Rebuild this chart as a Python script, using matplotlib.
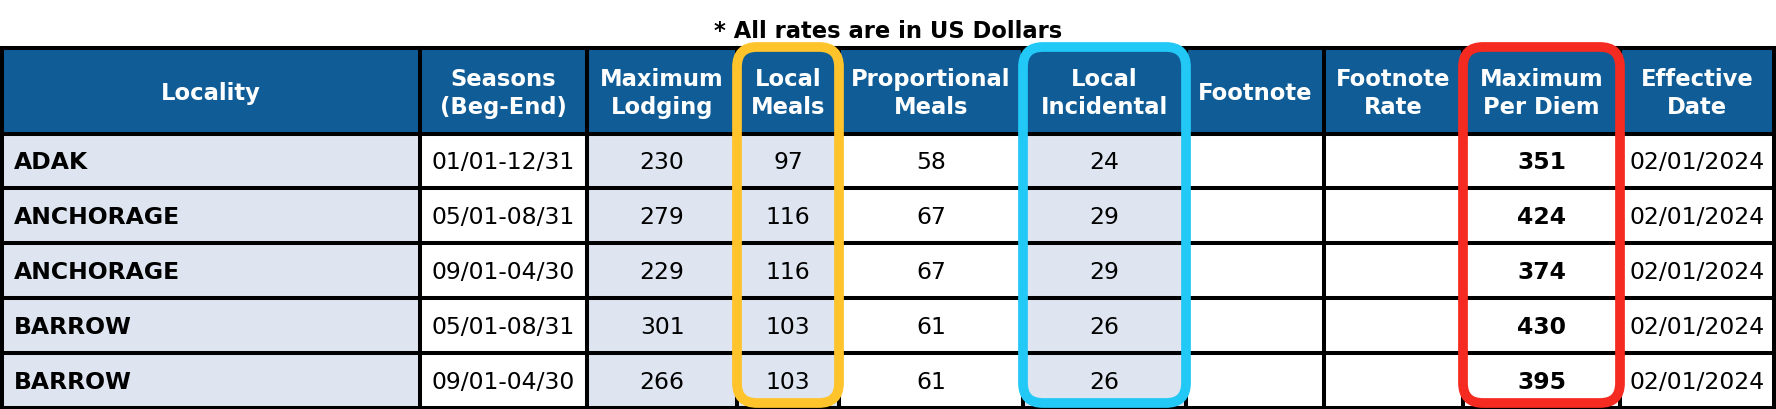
import matplotlib
matplotlib.use("Agg")
import matplotlib.pyplot as plt
from matplotlib.patches import Rectangle, FancyBboxPatch

# table contents
headers = ["Locality", "Seasons\n(Beg-End)", "Maximum\nLodging", "Local\nMeals",
           "Proportional\nMeals", "Local\nIncidental", "Footnote", "Footnote\nRate",
           "Maximum\nPer Diem", "Effective\nDate"]
localities = ["ADAK", "ANCHORAGE", "ANCHORAGE", "BARROW", "BARROW"]
seasons = ["01/01-12/31", "05/01-08/31", "09/01-04/30", "05/01-08/31", "09/01-04/30"]
max_lodging = [230, 279, 229, 301, 266]
local_meals = [97, 116, 116, 103, 103]
prop_meals = [58, 67, 67, 61, 61]
local_incidental = [24, 29, 29, 26, 26]
footnote = ["", "", "", "", ""]
footnote_rate = ["", "", "", "", ""]
max_per_diem = [351, 424, 374, 430, 395]
effective = ["02/01/2024"] * 5
note = "* All rates are in US Dollars"

columns = [localities, seasons, max_lodging, local_meals, prop_meals,
           local_incidental, footnote, footnote_rate, max_per_diem, effective]

# layout (pixel units, y grows downward)
col_edges = [1.5, 420, 587, 737, 839, 1023, 1186, 1324, 1463, 1620, 1774]
header_top, header_bot, row_h = 49, 134.5, 54.8
shaded = [True, False, True, True, False, True, False, False, False, False]
bold_col = [True] + [False] * 7 + [True, False]
highlights = {3: "#ffc32b", 5: "#22c8f6", 8: "#f52a20"}

HEAD = "#0f5c96"
LIGHT = "#dee5f0"
FS_HEAD = 16.3
FS_BODY = 16.9
LW = 2.9

fig = plt.figure(figsize=(17.76, 4.10), dpi=100)
ax = fig.add_axes([0, 0, 1, 1])
ax.set_xlim(0, 1776)
ax.set_ylim(410, 0)
ax.axis("off")

nrows = len(localities)
row_edges = [header_bot + i * row_h for i in range(nrows + 1)]

# fills
for j in range(len(headers)):
    x0, x1 = col_edges[j], col_edges[j + 1]
    ax.add_patch(Rectangle((x0, header_top), x1 - x0, header_bot - header_top,
                           facecolor=HEAD, edgecolor="none", zorder=1))
    if shaded[j]:
        ax.add_patch(Rectangle((x0, header_bot), x1 - x0, row_edges[-1] - header_bot,
                               facecolor=LIGHT, edgecolor="none", zorder=1))

# grid lines
for x in col_edges:
    ax.plot([x, x], [header_top, row_edges[-1]], color="black", lw=LW,
            solid_capstyle="projecting", zorder=2)
for y in [header_top] + row_edges:
    ax.plot([col_edges[0], col_edges[-1]], [y, y], color="black", lw=LW,
            solid_capstyle="projecting", zorder=2)

# header text
for j, h in enumerate(headers):
    cx = (col_edges[j] + col_edges[j + 1]) / 2
    ax.text(cx, (header_top + header_bot) / 2 + 2, h, color="white", fontsize=FS_HEAD,
            fontweight="bold", ha="center", va="center", linespacing=1.3, zorder=3)

# body text
for j, col in enumerate(columns):
    for i, v in enumerate(col):
        cy = (row_edges[i] + row_edges[i + 1]) / 2 + 1
        if j == 0:
            ax.text(col_edges[0] + 12, cy, v, fontsize=FS_BODY, fontweight="bold",
                    ha="left", va="center", zorder=3)
        else:
            cx = (col_edges[j] + col_edges[j + 1]) / 2
            ax.text(cx, cy, str(v), fontsize=FS_BODY,
                    fontweight="bold" if bold_col[j] else "normal",
                    ha="center", va="center", zorder=3)

# highlight frames
for j, c in highlights.items():
    x0, x1 = col_edges[j], col_edges[j + 1]
    ax.add_patch(FancyBboxPatch((x0, header_top - 1), x1 - x0, 405 - header_top,
                                boxstyle="round,pad=0,rounding_size=20",
                                facecolor="none", edgecolor=c, lw=7.0, zorder=4))

ax.text(888, 32, note, fontsize=FS_HEAD, fontweight="bold", ha="center", va="center")

fig.savefig("out.png", dpi=100)
